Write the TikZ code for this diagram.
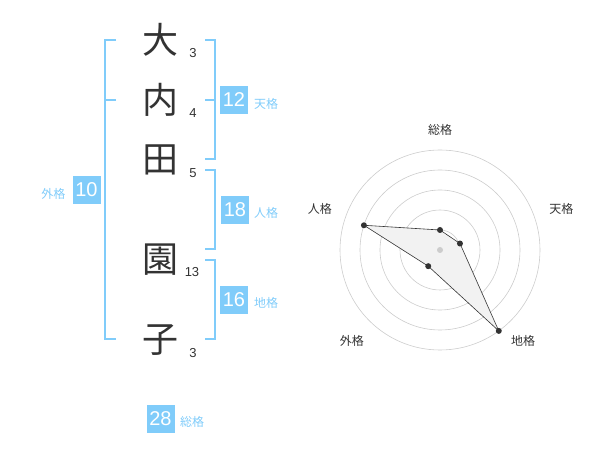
\documentclass[tikz,border=0pt]{standalone}
\usepackage{fontspec}
\setmainfont{Liberation Sans}
\newfontfamily\cjk{Noto Sans CJK JP}
\definecolor{kakublue}{HTML}{80CCFA}
\definecolor{inkgray}{HTML}{333333}
\definecolor{ringgray}{HTML}{CCCCCC}
\definecolor{polyfill}{HTML}{F2F2F2}
\tikzset{
  kanji/.style={font=\cjk\fontsize{36}{36}\selectfont, text=inkgray, inner sep=0pt},
  strokes/.style={font=\fontsize{13}{13}\selectfont, text=inkgray, inner sep=0pt},
  kakubox/.style={fill=kakublue, text=white, minimum size=28pt, inner sep=0pt, font=\fontsize{20}{20}\selectfont},
  kakuname/.style={font=\cjk\fontsize{12}{12}\selectfont, text=kakublue, inner sep=0pt},
  bracket/.style={draw=kakublue, line width=2pt},
  axisname/.style={font=\cjk\fontsize{12}{12}\selectfont, text=inkgray, inner sep=0pt},
  dot/.style={fill=inkgray},
}
\begin{document}
\begin{tikzpicture}[x=1pt,y=-1pt]
\useasboundingbox (0,0) rectangle (600,470);

% name and stroke counts
\node[kanji] (k1) at (160,40) {大};
\node[kanji] (k2) at (160,100) {内};
\node[kanji] (k3) at (160,160) {田};
\node[kanji] (k4) at (160,260) {園};
\node[kanji] (k5) at (160,340) {子};
\node[strokes] (s1) at (193,53) {3};
\node[strokes] (s2) at (193,113) {4};
\node[strokes] (s3) at (193,173) {5};
\node[strokes] (s4) at (192,272) {13};
\node[strokes] (s5) at (193,353) {3};

% brackets
\coordinate (gaiTop) at (116,40);
\coordinate (gaiMid) at (116,100);
\coordinate (gaiBot) at (116,339.5);
\coordinate (tenTop) at (205,40);
\coordinate (tenMid) at (205,100);
\coordinate (tenBot) at (205,159.5);
\coordinate (jinTop) at (205,170);
\coordinate (jinBot) at (205,249.5);
\coordinate (chiTop) at (205,260);
\coordinate (chiBot) at (205,339.5);

\draw[bracket] (gaiTop) -- ++(-11,0) |- (gaiBot);
\draw[bracket] (gaiMid) -- ++(-11,0);
\draw[bracket] (tenTop) -- ++(9.5,0) |- (tenBot);
\draw[bracket] (tenMid) -- ++(9.5,0);
\draw[bracket] (jinTop) -- ++(9.5,0) |- (jinBot);
\draw[bracket] (chiTop) -- ++(9.5,0) |- (chiBot);

% totals
\node[kakubox] (tenBox) at (234,100) {12};
\node[kakuname] (tenName) at (266,104) {天格};
\node[kakubox] (jinBox) at (235,210) {18};
\node[kakuname] (jinName) at (266,213) {人格};
\node[kakubox] (chiBox) at (234,300) {16};
\node[kakuname] (chiName) at (266,303) {地格};
\node[kakubox] (gaiBox) at (86.5,190) {10};
\node[kakuname] (gaiName) at (53.5,194) {外格};
\node[kakubox] (souBox) at (160.5,419) {28};
\node[kakuname] (souName) at (192,422) {総格};

% radar chart
\coordinate (c) at (440,250);
\foreach \r in {20,40,...,100}
  \draw[ringgray, line width=0.6pt] (c) circle[radius=\r];

\path (c) ++(-90:20) coordinate (sou);
\path (c) ++(-18:21) coordinate (ten);
\path (c) ++(54:100) coordinate (chi);
\path (c) ++(126:20) coordinate (gai);
\path (c) ++(198:80) coordinate (jin);

\filldraw[fill=polyfill, draw=inkgray, line width=0.6pt]
  (sou) -- (ten) -- (chi) -- (gai) -- (jin) -- cycle;
\fill[ringgray] (c) circle[radius=3];
\foreach \p in {sou,ten,chi,gai,jin}
  \fill[dot] (\p) circle[radius=3];

\path (c) ++(-90:120) node[axisname] (souAxis) {総格};
\path (c) ++(-18.6:128) node[axisname] (tenAxis) {天格};
\path (c) ++(47.5:123) node[axisname] (chiAxis) {地格};
\path (c) ++(134:127) node[axisname] (gaiAxis) {外格};
\path (c) ++(198.9:127) node[axisname] (jinAxis) {人格};
\end{tikzpicture}
\end{document}
